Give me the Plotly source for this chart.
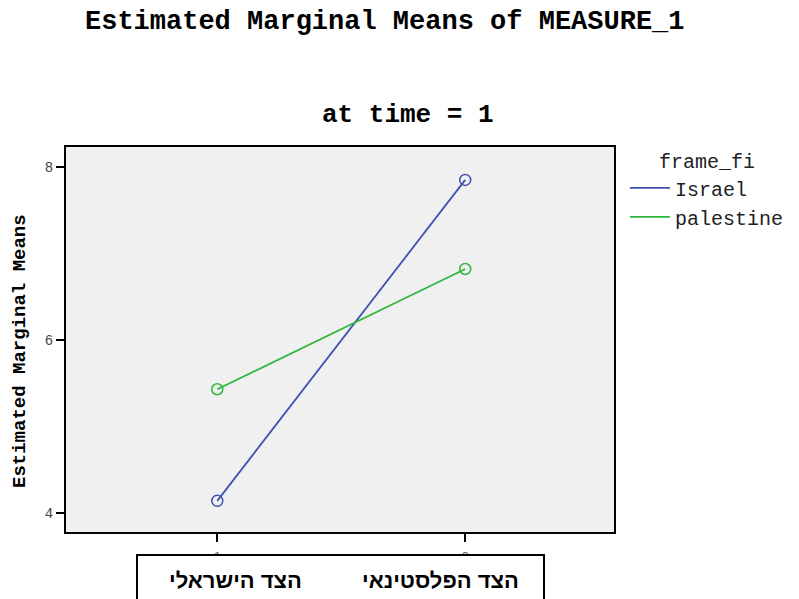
import plotly.graph_objects as go

# data
levels = [1, 2]
level_labels = ["הצד הישראלי", "הצד הפלסטינאי"]
israel = [4.14, 7.85]
palestine = [5.43, 6.82]
y_ticks = [4, 6, 8]

BLUE = "#3f51b1"
GREEN = "#2db83d"
MONO = "Liberation Mono, Courier New, monospace"

fig = go.Figure()

for name, vals, col in [("Israel", israel, BLUE), ("palestine", palestine, GREEN)]:
    fig.add_trace(go.Scatter(x=levels, y=vals, mode="lines", name=name,
                             line=dict(color=col, width=1.8)))
    fig.add_trace(go.Scatter(x=levels, y=vals, mode="markers", showlegend=False,
                             marker=dict(symbol="circle-open", size=11, color=col,
                                         line=dict(width=1.5, color=col))))

fig.update_layout(
    width=799, height=599,
    margin=dict(l=66, r=185, t=147, b=67, autoexpand=False),
    paper_bgcolor="white",
    plot_bgcolor="#f0f0f0",
    font=dict(family=MONO, color="black"),
    legend=dict(title=dict(text="frame_fi", side="top center",
                           font=dict(size=20, family=MONO)),
                font=dict(size=20, family=MONO, color="#222"),
                itemwidth=40,
                x=1.02, y=1.012, xanchor="left", yanchor="top",
                bgcolor="rgba(0,0,0,0)", tracegroupgap=0),
)

fig.update_xaxes(range=[0.39, 2.6], tickvals=levels, ticktext=["1", "2"],
                 ticks="outside", ticklen=8, tickwidth=2, tickcolor="black",
                 tickfont=dict(size=11, family=MONO, color="#444"),
                 ticklabelstandoff=4,
                 showgrid=False, zeroline=False,
                 showline=True, linecolor="black", linewidth=2, mirror=True)
fig.update_yaxes(range=[3.78, 8.23], tickvals=y_ticks,
                 ticks="outside", ticklen=8, tickwidth=2, tickcolor="black",
                 tickfont=dict(size=14, family=MONO, color="#444"),
                 showgrid=False, zeroline=False,
                 showline=True, linecolor="black", linewidth=2, mirror=True)

# axis title, titles
fig.add_annotation(text="<b>Estimated Marginal Means</b>", textangle=-90,
                   xref="paper", yref="paper", x=(20 - 66) / 548, y=(532 - 351) / 385,
                   showarrow=False, font=dict(size=19, family=MONO),
                   xanchor="center", yanchor="middle")
fig.add_annotation(text="<b>Estimated Marginal Means of MEASURE_1</b>",
                   xref="paper", yref="paper", x=(385 - 66) / 548, y=(532 - 22) / 385,
                   showarrow=False, font=dict(size=27, family=MONO), yanchor="middle")
fig.add_annotation(text="<b>at time = 1</b>",
                   xref="paper", yref="paper", x=(408 - 66) / 548, y=(532 - 115) / 385,
                   showarrow=False, font=dict(size=26, family=MONO), yanchor="middle")

# box with the Hebrew level labels, covering the lower half of the tick labels
fig.add_shape(type="rect", xref="paper", yref="paper", layer="above",
              x0=(137 - 66) / 548, x1=(544 - 66) / 548,
              y0=(532 - 606) / 385, y1=(532 - 555) / 385,
              fillcolor="white", line=dict(color="black", width=2))
for lab, cx in zip(level_labels, [235, 440]):
    fig.add_annotation(text=lab, xref="paper", yref="paper",
                       x=(cx - 66) / 548, y=(532 - 580) / 385, showarrow=False,
                       xanchor="center", yanchor="middle",
                       font=dict(size=22, weight="bold",
                                 family="Liberation Sans, Arial, sans-serif"))

# no page margin, so the figure sits at the top-left corner of the window
fig.write_html("out.html", config={"displayModeBar": False},
               post_script="document.body.style.margin='0';")
